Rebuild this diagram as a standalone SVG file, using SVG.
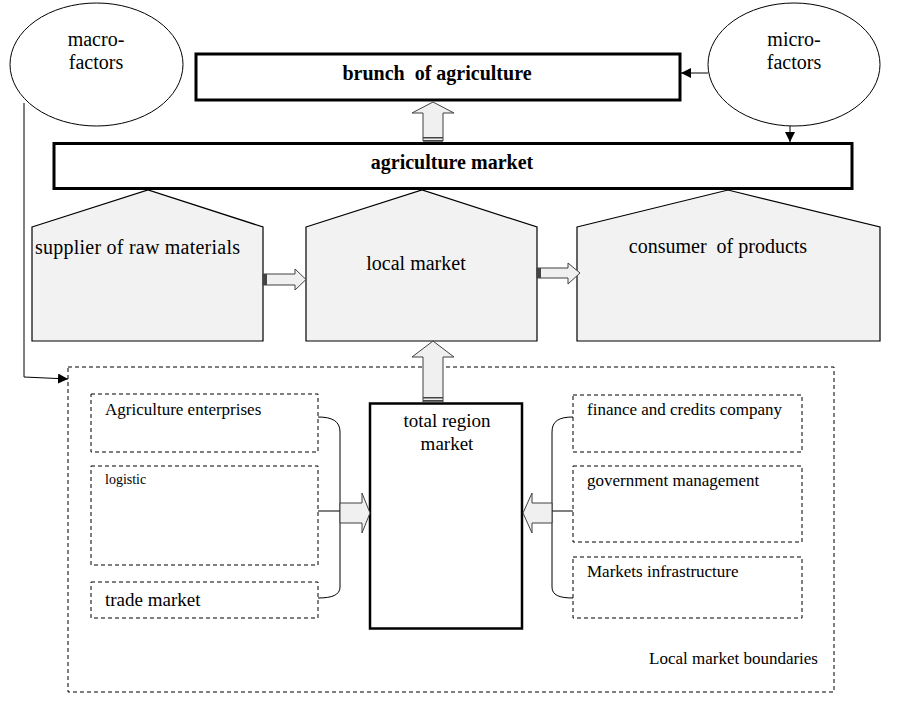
<svg xmlns="http://www.w3.org/2000/svg" width="899" height="704" viewBox="0 0 899 704">
<style>
text{font-family:"Liberation Serif","Times New Roman",serif;fill:#000}
.b{font-weight:bold}
.thick{fill:#fff;stroke:#000;stroke-width:3}
.house{fill:#f2f2f2;stroke:#000;stroke-width:1.2}
.dash{fill:none;stroke:#000;stroke-width:1;stroke-dasharray:4 3}
.blk{fill:#f0f0f0;stroke:#404040;stroke-width:1}
.ln{fill:none;stroke:#000;stroke-width:1}
.band{fill:#444}
</style>
<defs>
<marker id="ah" viewBox="0 0 10 10" refX="10" refY="5" markerWidth="10" markerHeight="10" markerUnits="userSpaceOnUse" orient="auto">
<path d="M0,0 L10,5 L0,10 z" fill="#000"/>
</marker>
</defs>
<rect width="899" height="704" fill="#fff"/>

<g id="macro">
<ellipse cx="96.5" cy="64.5" rx="86.5" ry="61.5" fill="#fff" stroke="#000" stroke-width="1"/>
<text x="96" y="46" font-size="20" text-anchor="middle">macro-</text>
<text x="96" y="69" font-size="20" text-anchor="middle">factors</text>
</g>

<g id="micro">
<ellipse cx="794" cy="64.5" rx="86" ry="61.5" fill="#fff" stroke="#000" stroke-width="1"/>
<text x="794" y="46" font-size="20" text-anchor="middle">micro-</text>
<text x="794" y="69" font-size="20" text-anchor="middle">factors</text>
</g>

<g id="brunch">
<rect class="thick" x="196" y="54" width="484" height="46"/>
<text class="b" x="437" y="80" font-size="20" text-anchor="middle" xml:space="preserve">brunch  of agriculture</text>
</g>

<g id="agri-market">
<rect class="thick" x="54" y="143.5" width="798" height="45"/>
<text class="b" x="452" y="169" font-size="20" text-anchor="middle">agriculture market</text>
</g>

<g id="supplier">
<path class="house" d="M32,227 L148,190 L263,227 L263,341 L32,341 z"/>
<text x="35" y="254" font-size="20" textLength="205">supplier of raw materials</text>
</g>

<g id="local">
<path class="house" d="M306,227 L422,190 L537,227 L537,341 L306,341 z"/>
<text x="416" y="270" font-size="20" text-anchor="middle">local market</text>
</g>

<g id="consumer">
<path class="house" d="M577,227 L728,190 L880,227 L880,341 L577,341 z"/>
<text x="718" y="253" font-size="20" text-anchor="middle" xml:space="preserve">consumer  of products</text>
</g>

<g id="boundary">
<rect class="dash" x="68" y="367" width="766" height="325"/>
<text x="818" y="664" font-size="17" text-anchor="end">Local market boundaries</text>
</g>

<g id="agri-ent">
<rect class="dash" x="91" y="394" width="227" height="58"/>
<text x="105" y="415" font-size="17">Agriculture enterprises</text>
</g>

<g id="logistic">
<rect class="dash" x="91" y="466" width="227" height="99"/>
<text x="105" y="484" font-size="14">logistic</text>
</g>

<g id="trade">
<rect class="dash" x="91" y="582" width="227" height="36"/>
<text x="105" y="606" font-size="19">trade market</text>
</g>

<g id="finance">
<rect class="dash" x="573" y="395" width="229" height="57"/>
<text x="587" y="415" font-size="17">finance and credits company</text>
</g>

<g id="government">
<rect class="dash" x="573" y="466" width="229" height="76"/>
<text x="587" y="486" font-size="17">government management</text>
</g>

<g id="infra">
<rect class="dash" x="573" y="557" width="229" height="61"/>
<text x="587" y="577" font-size="17">Markets infrastructure</text>
</g>

<g id="total">
<rect x="370" y="403.5" width="152" height="225" fill="#fff" stroke="#000" stroke-width="2.5"/>
<text x="447" y="427" font-size="19" text-anchor="middle">total region</text>
<text x="447" y="450" font-size="19" text-anchor="middle">market</text>
</g>

<g id="connectors">
<line class="ln" x1="708" y1="73" x2="681" y2="73" marker-end="url(#ah)"/>
<line class="ln" x1="790" y1="126" x2="790" y2="142" marker-end="url(#ah)"/>
<polyline class="ln" points="24,103 24,377 68,379" marker-end="url(#ah)"/>

<path class="blk" d="M423,141 L423,113 L412,113 L433,102 L454,113 L443,113 L443,141 z"/>
<rect class="band" x="423" y="137" width="20" height="1.5"/>
<rect class="band" x="423" y="140" width="20" height="1.5"/>

<path class="blk" d="M263,274 L295,274 L295,269 L306,279.5 L295,290 L295,285 L263,285 z"/>
<rect class="band" x="263" y="274" width="4" height="11"/>

<path class="blk" d="M537,268 L568,268 L568,263 L580,273 L568,284 L568,278 L537,278 z"/>
<rect class="band" x="537" y="268" width="4" height="10"/>

<path class="blk" d="M423,402 L423,357 L412,357 L433,341 L454,357 L443,357 L443,402 z"/>
<rect class="band" x="423" y="397" width="20" height="1.5"/>
<rect class="band" x="423" y="400" width="20" height="1.5"/>

<path class="ln" d="M318,417 C332,417 340,421 340,432 L340,587 C340,595 332,598 318,598"/>
<line class="ln" x1="318" y1="511" x2="340" y2="511"/>
<path class="blk" d="M340,503 L362,503 L362,493 L370,513 L362,533 L362,523 L340,523 z"/>

<path class="ln" d="M573,417 C559,417 552,421 552,432 L552,587 C552,595 559,598 573,598"/>
<line class="ln" x1="552" y1="511" x2="573" y2="511"/>
<path class="blk" d="M552,503 L532,503 L532,493 L523,513 L532,533 L532,523 L552,523 z"/>
</g>
</svg>
